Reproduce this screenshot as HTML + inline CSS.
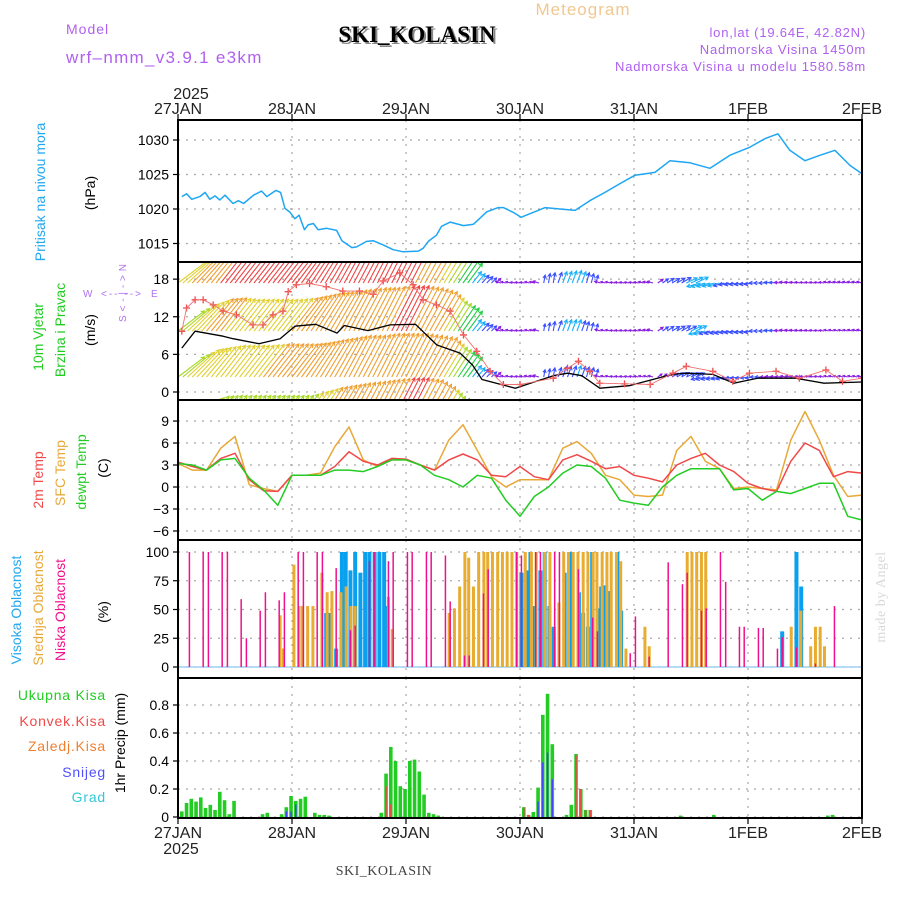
<!DOCTYPE html>
<html><head><meta charset="utf-8"><title>Meteogram SKI_KOLASIN</title>
<style>
html,body{margin:0;padding:0;background:#fff;}
svg{display:block;font-family:"Liberation Sans",sans-serif;}
</style></head>
<body>
<svg id="chart" width="900" height="900" viewBox="0 0 900 900" xmlns="http://www.w3.org/2000/svg">
<rect x="0" y="0" width="900" height="900" fill="#fff"/>
<text x="583" y="15" font-size="17" fill="#f0c890" text-anchor="middle" letter-spacing="1">Meteogram</text>
<text x="66" y="34" font-size="14" fill="#b060f0" letter-spacing="1">Model</text>
<text x="66" y="63" font-size="17" fill="#b060f0" letter-spacing="1.3">wrf–nmm_v3.9.1 e3km</text>
<text x="419" y="44" font-family="Liberation Serif,serif" font-weight="bold" font-size="23" fill="#888" text-anchor="middle">SKI_KOLASIN</text>
<text x="417" y="42" font-family="Liberation Serif,serif" font-weight="bold" font-size="23" fill="#000" text-anchor="middle">SKI_KOLASIN</text>
<text x="866" y="37" font-size="13" fill="#b060f0" text-anchor="end" letter-spacing="0.8">lon,lat (19.64E, 42.82N)</text>
<text x="866" y="54" font-size="13" fill="#b060f0" text-anchor="end" letter-spacing="0.8">Nadmorska Visina 1450m</text>
<text x="866" y="71" font-size="13" fill="#b060f0" text-anchor="end" letter-spacing="0.8">Nadmorska Visina u modelu 1580.58m</text>
<text x="191" y="99" font-size="16" fill="#222" text-anchor="middle">2025</text>
<text x="181" y="854" font-size="16" fill="#222" text-anchor="middle">2025</text>
<text x="384" y="875" font-family="Liberation Serif,serif" font-size="14" fill="#444" text-anchor="middle" letter-spacing="0.5">SKI_KOLASIN</text>
<text transform="translate(885,597) rotate(-90)" font-family="Liberation Serif,serif" font-size="14" fill="#d8d8d8" text-anchor="middle" letter-spacing="0.5">made by Angel</text>
<g id="labels" font-size="14"></g>
<g id="grid"></g>
<g id="marks"></g>
<g id="frames"></g>
</svg>
<script>
// ---------- DATA ----------
const days = ["27JAN","28JAN","29JAN","30JAN","31JAN","1FEB","2FEB"];
const pressHours = [0.8,1.8,2.9,4.6,5.7,6.7,7.8,8.8,9.9,11.6,12.7,13.8,15.9,17.6,18.7,20.6,21.6,22.5,23.6,24.6,25.5,26.6,27.4,28.5,29.5,31.3,33.4,34.5,36.6,37.6,39.7,41.1,43.2,45.3,47.4,50.6,51.6,52.7,54.4,55.5,57.3,60.1,62.2,65,67.4,68.5,70.6,72.2,77.3,80.4,83.6,86.7,89.9,93.1,96.2,100.4,103.6,107.8,112,116.2,120.2,123.6,126.3,128.8,132,135.2,138.3,141.5,144];
const pressVals = [1021.8,1022.2,1021.4,1021.8,1022.4,1021.4,1021.9,1021.3,1022,1020.8,1021.2,1020.8,1022,1022.6,1021.8,1022.7,1022.4,1020.1,1019.5,1018.6,1019.1,1017,1017.7,1017.9,1017,1017.2,1016.9,1015.4,1014.4,1014.5,1015.3,1015.4,1014.8,1014.1,1013.8,1013.9,1014.3,1015.3,1016.2,1017.5,1018.1,1017.6,1017.8,1019.6,1020.2,1020.2,1019.5,1018.8,1020.2,1020.0,1019.8,1021.2,1022.4,1023.7,1024.9,1025.3,1027.0,1026.7,1025.9,1027.8,1028.9,1030.2,1030.9,1028.5,1027.0,1027.8,1028.5,1026.3,1025.1];
const pressTicks = [1015,1020,1025,1030];

const temp2m = [3.4,2.8,2.3,3.9,4.6,1.0,-0.5,-0.6,1.6, 1.6,1.6,2.8,4.8,3.5,3.0,3.9,3.8, 3.0,2.3,3.7,4.5,3.7,1.6,1.4,2.8, 1.4,1.0,3.7,4.4,3.5,2.5,2.8,1.6, 1.2,0.7,3.0,3.9,4.6,3.0,2.1,0.5, -0.2,-0.6,3.5,6.0,5.0,1.4,2.1,1.9];
const tempSfc = [3.2,2.3,2.3,5.3,6.9,0.3,-0.2,-0.6,1.6, 1.6,1.9,5.5,8.2,3.7,2.8,3.7,3.7, 3.0,2.3,6.4,8.5,5.0,1.4,0.0,1.0, 1.0,1.0,5.3,6.2,4.6,1.6,1.0,-1.1, -1.3,-1.1,5.0,6.9,3.5,2.5,-0.2,0.0, -0.2,-0.4,6.4,10.3,6.4,1.6,-1.3,-1.1];
const tempDew = [3.2,3.0,2.3,3.7,3.9,1.2,-0.4,-2.5,1.6, 1.6,1.6,2.3,2.3,2.1,2.8,3.7,3.7, 3.0,1.6,1.0,0.0,1.6,1.2,-1.8,-4.0, -1.3,0.0,1.9,3.0,2.8,1.2,-1.8,-2.2, -2.5,0.0,1.6,2.5,2.5,2.5,-0.4,-0.2, -1.8,-0.6,-0.9,-0.2,0.5,0.5,-4.0,-4.5];
const tempTicks = [-6,-3,0,3,6,9];

const windDir = [37,45,50,52,52,52,52,52,52,55,58,60,62,62,63,63,63,62,60,58,55,50,45, 165,170,165,80,70,70,75,165,170,170,165,35,30,25,195,195,190,190,180,175,170,170,170,165,165,165];
const windSpd1 = [11,12,13,15,16,16,16,16,16,16,16,16,17,17,17,16,15,14,12,10,8,5,3, 2,2,2,4,5,5.5,4,2,2,2,2.2,3,4,5.5,6,5,4,3.5,3.5,3,2.5,2,2,2.2,2.2,2.2];
const windSpd2 = [9.5,11,12,12,11.5,11.5,11.5,11.5,12,12.5,13,13,13.5,14,14,14.5,14.5,14,13,10,8,5,3, 2,2,2,3.5,5,5,3.5,2,2,2,2.2,3,4,5,5,4,4,3.5,3.5,3,2.5,2.2,2,2,2,2.2];
const windSpd3 = [9.5,11,11,11.5,11.5,11.5,12,12,12,12,12.5,13,13.5,13.5,14,14,14,13.5,13,10,8,5,3, 2,2,2.2,3.5,4.5,5,4,2,2,2,2,2.2,3.5,4,4,3.5,3.5,3,3,2.5,2.2,2,2,2,2,2];
const windSpd4 = [8,9,10,10,10,10,10,10,10,11,12,12.5,13,13.5,14,14.5,14.5,14,12,9,7,4,2, 2,2,2,2,2,2,2,2,2,2,2,2,2,2,2,2,2,2,2,2,2,2,2,2,2,2];
const windTicks = [0,6,12,18];
const speedHours = [0.8,3.6,9.5,11.6,17,21.5,24.6,29,33.5,35,40,44.6,50,54.5,59.4,62,64,71,79,82,85,88.8,95,104,107,112.6,117,122,130,136,144];
const speedVals = [7.0,9.7,8.9,8.5,7.7,8.5,10.5,10.8,9.4,10.6,9.8,10.7,10.8,7.5,6.2,4.3,2.0,0.6,2.6,3.0,2.6,0.6,1.0,2.8,3.0,2.8,1.4,2.2,2.2,1.4,1.6];
const gustHours = [0.8,1.8,3.6,5.3,7.4,9.5,12.3,15.8,17.9,20,22.1,23.2,24.9,27.7,31.2,34.7,38.2,41.1,43.2,46.7,49.5,51.6,54.4,57.3,60.1,62.9,65.7,68.5,72,79,82,84.3,86.7,88.8,94,99.4,104.2,107,112.6,116.8,120.3,125.9,130.8,136.4,139.9,144];
const gustVals = [9.7,13.4,14.7,14.7,13.9,12.9,12.3,10.7,10.7,12.3,12.9,16,17.1,17.3,16.8,16.1,16.1,15.6,17.7,19,17.1,14.7,13.9,12.9,9.1,6.5,3.3,1.2,1.2,2.2,3.8,4.9,3.3,1.4,1.3,1.2,3.0,4.1,3.3,1.7,3.0,3.3,2.2,3.5,1.7,2.2];

const lowHours = [2.4,5.3,6.4,9.3,10.4,13.3,14.4,17.3,18.4,21.3,22.4,25.3,26.4,29.3,30.4,33.3,36.3,37.3,40.3,41.3,44.3,45.3,48.3,49.3,52.3,53.3,56.3,57.3,60.3,61.3,64.3,65.3,71.3,72.3,75.3,76.3,79.3,80.3,84.3,87.3,88.3,95.2,96.3,99.2,103.2,106.2,107.2,110.2,111.2,114.2,115.3,118.2,119.2,122.2,123.2,126.2,127.2,130.2,134.2,138.2];
const lowVals = [100,100,100,100,100,59,25,49,65,58,65,100,100,100,100,86,32,36,92,100,92,100,100,100,100,100,97,57,10,10,64,85,100,97,100,100,100,100,85,43,31,12,44,9,91,72,82,49,51,100,74,35,35,34,34,16,26,17,3,53];
const midHours = [21.5,22.2,24.4,25.5,26.2,27.3,28.4,30.3,31.4,32.4,34.3,35.4,36.4,37.3,44.3,45.1,57.1,58.2,59.3,60.4,61.2,62.2,63.3,64.4,65.2,66.2,67.3,68.3,69.3,70.3,71.3,73.1,74.4,75.4,77.2,78.3,80.2,81.2,82.2,83.2,84.2,85.3,86.3,87.4,88.2,89.3,90.3,91.2,92.3,93.2,94.3,98.3,99.2,107.2,108.2,109.2,110.2,111.1,129.1,131.1,133.2,134.2,135.2,136.1];
const midVals = [45,16,89,53,53,53,53,82,65,66,65,70,53,53,61,33,47,51,70,100,95,70,100,100,100,100,100,100,100,100,100,100,100,100,100,100,56,100,100,100,100,100,100,100,100,100,100,100,100,92,16,35,18,100,100,100,100,100,35,49,18,35,35,18];
const highHours = [31.2,32,33.3,34.5,35.3,36.3,37.3,38.4,39.4,40.3,41.4,42.4,43.4,44.1,72.3,73.5,74.2,75.1,76.3,77.2,78.2,79.1,81.4,82.8,84.4,85.3,86.3,87.2,88.6,89.1,90,91,92.5,93.3,127.2,130.2,131.2];
const highVals = [47,47,16,100,100,84,100,82,100,100,100,100,100,53,82,84,100,53,84,100,53,35,82,100,65,47,35,100,51,70,71,66,100,49,31,100,70];
const cloudTicks = [0,25,50,75,100];

const rainHours = [1,2,3,4,5,6,7,8,9,10,11,12,18,19,22,23,24,25,26,27,29,30,31,32,43,44,45,46,47,48,49,50,51,52,53,54,55,73,74,75,76,77,78,79,82,83,84,85,86,87,106,113,137,138];
const rainVals = [0.04,0.10,0.13,0.11,0.14,0.065,0.087,0.05,0.18,0.12,0.02,0.115,0.02,0.03,0.02,0.07,0.15,0.115,0.13,0.145,0.03,0.015,0.015,0.01,0.03,0.31,0.5,0.4,0.22,0.2,0.4,0.41,0.325,0.16,0.03,0.02,0.01,0.07,0.015,0.036,0.21,0.73,0.88,0.52,0.015,0.087,0.45,0.2,0.05,0.05,0.01,0.015,0.01,0.015];
const convHours = [44,45,73,74,84,85,86,87];
const convVals = [0.22,0.09,0.07,0.015,0.44,0.2,0.05,0.05];
const snowHours = [23,24,25,76,77,78,79];
const snowVals = [0.04,0.04,0.09,0.11,0.39,0.46,0.27];
const precipTicks = [0,0.2,0.4,0.6,0.8];

// ---------- LAYOUT ----------
const NS = "http://www.w3.org/2000/svg";
const X0 = 178, X1 = 862;
const xS = h => X0 + h * (X1 - X0) / 144;
const panels = {
  press: {top:120, bot:262, y:v => 243.5 - (v-1015)*6.9},
  wind:  {top:262, bot:400, y:v => 392 - v*6.27},
  temp:  {top:400, bot:540, y:v => 487 - v*7.33},
  cloud: {top:540, bot:678, y:v => 667 - v*1.15},
  precip:{top:678, bot:818, y:v => 817 - v*140}
};
function el(tag, attrs, parent){ const e=document.createElementNS(NS,tag); for(const k in attrs) e.setAttribute(k,attrs[k]); parent.appendChild(e); return e; }
const gGrid=document.getElementById('grid'), gMarks=document.getElementById('marks'), gFr=document.getElementById('frames'), gLab=document.getElementById('labels');

const defs = el('defs',{},document.getElementById('chart'));
for (const k in panels){ const p=panels[k]; const c=el('clipPath',{id:'clip-'+k},defs); el('rect',{x:X0,y:p.top,width:X1-X0,height:p.bot-p.top},c); }

function yGrid(key, ticks, fmt){
  const p=panels[key];
  ticks.forEach(t=>{
    const y=p.y(t);
    const gl=el('line',{x1:X0,x2:X1,y1:y,y2:y,stroke:'#a8a8a8','stroke-width':1.2,'stroke-dasharray':'2,6'},gGrid);
    
    
    el('line',{x1:X0-5,x2:X0,y1:y,y2:y,stroke:'#000','stroke-width':1.2},gFr);
    const tx=el('text',{x:X0-9,y:y+5,'font-size':14,'text-anchor':'end',fill:'#000'},gFr);
    tx.textContent=fmt?fmt(t):String(t);
    
    
  });
  for(let d=1; d<6; d++){
    const x=xS(d*24);
    el('line',{x1:x,x2:x,y1:p.top,y2:p.bot,stroke:'#a8a8a8','stroke-width':1.2,'stroke-dasharray':'2,6'},gGrid);
  }
}
yGrid('press',pressTicks);
yGrid('wind',windTicks);
yGrid('temp',tempTicks,t=>t<0?'−'+(-t):String(t));
yGrid('cloud',cloudTicks);
yGrid('precip',precipTicks,t=>t===0?'0':t.toFixed(1));

for (const k in panels){ const p=panels[k];
  const r=el('rect',{x:X0,y:p.top,width:X1-X0,height:p.bot-p.top,fill:'none',stroke:'#000','stroke-width':2},gFr);
  
  
}
days.forEach((d,i)=>{
  const x=xS(i*24);
  el('line',{x1:x,x2:x,y1:114,y2:120,stroke:'#000','stroke-width':1.2},gFr);
  el('line',{x1:x,x2:x,y1:818,y2:824,stroke:'#000','stroke-width':1.2},gFr);
  const t=el('text',{x:x,y:114,'font-size':16,'text-anchor':'middle',fill:'#222'},gFr); t.textContent=d;
  
  
  const b=el('text',{x:x,y:838,'font-size':16,'text-anchor':'middle',fill:'#222'},gFr); b.textContent=d;
  
  
});

// ---------- SERIES ----------
function line(hours, vals, key, color, name, w){
  const p=panels[key];
  const d=hours.map((h,i)=>(i?'L':'M')+xS(h).toFixed(1)+','+p.y(vals[i]).toFixed(1)).join('');
  const e=el('path',{d:d,fill:'none',stroke:color,'stroke-width':w||1.5,'stroke-linejoin':'round','clip-path':'url(#clip-'+key+')'},gMarks);
  
  
}
const h3 = temp2m.map((_,i)=>i*3);
line(pressHours, pressVals, 'press', '#1ea6f4', 'pressure-line');
line(h3, tempSfc, 'temp', '#e8a838', 'sfc-temp-line');
line(h3, temp2m, 'temp', '#f04848', 'temp-2m-line');
line(h3, tempDew, 'temp', '#22cc22', 'dewpoint-line');

function spdColor(s){
  if(s<3) return '#8a1ee0'; if(s<5) return '#3a50ff'; if(s<7) return '#18b0f8';
  if(s<9) return '#22cc44'; if(s<10.5) return '#a8d828'; if(s<12) return '#e0d030';
  if(s<14.5) return '#f0a030'; return '#f04444';
}
const gWind=el('g',{'clip-path':'url(#clip-wind)'},gMarks);


const rows=[[windSpd1,283],[windSpd2,331],[windSpd3,377],[windSpd4,423]];
rows.forEach(([spd,base])=>{
  for(let h=0; h<=144; h++){
    const i=Math.min(Math.floor(h/3),47), f=(h-i*3)/3;
    const s=spd[i]*(1-f)+spd[i+1]*f;
    let a = (i<22) ? windDir[i]*(1-f)+windDir[i+1]*f : windDir[f<0.5?i:i+1];
    const L = s>=7 ? s*3.5 : s*2.4, r=a*Math.PI/180;
    const x0=xS(h), x1=x0+L*Math.cos(r), y1=base-L*Math.sin(r);
    const c=spdColor(s);
    const hl=Math.min(4,L*0.45);
    const ha1=r+Math.PI-0.5, ha2=r+Math.PI+0.5;
    el('path',{d:`M${x0},${base}L${x1},${y1}M${x1+hl*Math.cos(ha1)},${y1-hl*Math.sin(ha1)}L${x1},${y1}L${x1+hl*Math.cos(ha2)},${y1-hl*Math.sin(ha2)}`,stroke:c,'stroke-width':1.1,fill:'none'},gWind);
  }
});
line(speedHours, speedVals, 'wind', '#000', 'wind-speed-line', 1.3);
const gG=el('g',{'clip-path':'url(#clip-wind)'},gMarks);


gustHours.forEach((h,i)=>{
  const x=xS(h), y=panels.wind.y(gustVals[i]);
  el('path',{d:`M${x-3.5},${y}h7M${x},${y-3.5}v7`,stroke:'#f04848','stroke-width':1.3},gG);
});
line(gustHours, gustVals, 'wind', '#f07070', 'wind-gust-line', 0.9);

const gC=el('g',{'clip-path':'url(#clip-cloud)'},gMarks);
el('line',{x1:X0,x2:X1,y1:667,y2:667,stroke:'#9fd0f2','stroke-width':1.5},gC);
function bars(hours, vals, key, color, w, g, name){
  const p=panels[key];
  hours.forEach((h,i)=>{
    const y=p.y(vals[i]), b=p.y(0);
    const r=el('rect',{x:xS(h)-w/2,y:y,width:w,height:Math.max(0,b-y),fill:color},g);
    
    
  });
}
bars(highHours, highVals, 'cloud', '#0aa0f0', 4, gC, 'high-cloud-bar');
bars(midHours, midVals, 'cloud', '#e8ac30', 3, gC, 'mid-cloud-bar');
bars(lowHours, lowVals, 'cloud', '#f0108c', 1.5, gC, 'low-cloud-bar');

const gP=el('g',{'clip-path':'url(#clip-precip)'},gMarks);
bars(rainHours.map(h=>h-0.2), rainVals, 'precip', '#22cc22', 3.6, gP, 'total-precip-bar');
bars(convHours.map(h=>h-0.2), convVals, 'precip', '#f04848', 1.5, gP, 'convective-precip-bar');
bars(snowHours.map(h=>h-0.2), snowVals, 'precip', '#4444ff', 1.5, gP, 'snow-bar');

// ---------- LEFT LABELS ----------
function vlab(x,y,txt,color,name,size){
  const t=el('text',{transform:`translate(${x},${y}) rotate(-90)`,'text-anchor':'middle','dominant-baseline':'central','font-size':size||14,fill:color},gLab);
  t.textContent=txt;
  
  
}
vlab(40,192,'Pritisak na nivou mora','#20a8f0','pressure-title');
vlab(90,193,'(hPa)','#000','pressure-unit');
vlab(38,337,'10m Vjetar','#22cc22','wind-title');
vlab(60,330,'Brzina i Pravac','#22cc22','wind-subtitle');
vlab(90,330,'(m/s)','#000','wind-unit');
vlab(38,480,'2m Temp','#f04848','temp2m-title');
vlab(60,473,'SFC Temp','#e8a838','sfc-temp-title');
vlab(81,472,'dewpt Temp','#22cc22','dewpt-title');
vlab(103,468,'(C)','#000','temp-unit');
vlab(16,610,'Visoka Oblacnost','#20a8f0','high-cloud-title');
vlab(38,608,'Srednja Oblacnost','#e8a838','mid-cloud-title');
vlab(60,610,'Niska Oblacnost','#f0108c','low-cloud-title');
vlab(103,612,'(%)','#000','cloud-unit');
vlab(120,743,'1hr Precip (mm)','#000','precip-unit');
[['Ukupna Kisa','#22cc22',695,'legend-total'],['Konvek.Kisa','#f04848',721,'legend-convective'],['Zaledj.Kisa','#f08030',746,'legend-freezing'],['Snijeg','#5050ff',772,'legend-snow'],['Grad','#30c8d8',797,'legend-hail']].forEach(([t,c,y,n])=>{
  const e=el('text',{x:106,y:y+5,'text-anchor':'end','font-size':14,fill:c,'letter-spacing':'0.8'},gLab);
  e.textContent=t;
  
  
});
const cp=el('g',{fill:'#b070f0','font-size':10},gLab);


const cw=el('text',{x:83,y:297},cp); cw.textContent='W';
const ch=el('text',{x:101,y:297,textLength:40,lengthAdjust:'spacing'},cp); ch.textContent='<-- -->';
const ce=el('text',{x:151,y:297},cp); ce.textContent='E';
const cv=el('text',{transform:'translate(126,293) rotate(-90)','text-anchor':'middle',textLength:58,lengthAdjust:'spacing'},cp); cv.textContent='S<-|->N';
</script>
</body></html>
